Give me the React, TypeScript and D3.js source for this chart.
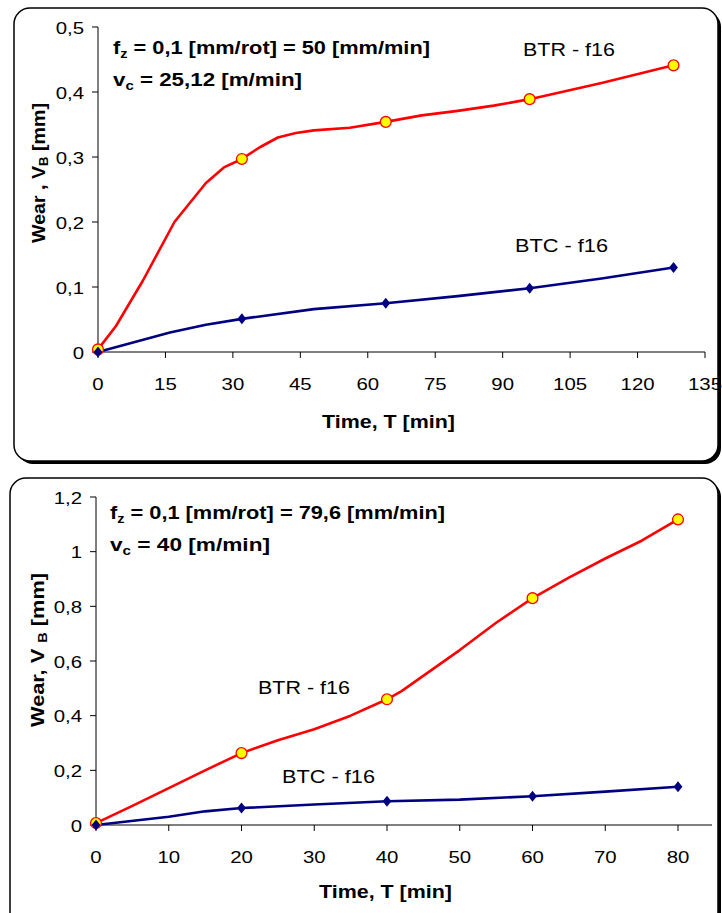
import React from "react";
import * as d3 from "d3";

// ---------- Data: top chart (vc = 25,12 m/min) ----------
const topMarkerT = [0, 32, 64, 96, 128];
const topBTRMarkers = [0.004, 0.297, 0.354, 0.389, 0.441];
const topBTCMarkers = [0, 0.051, 0.075, 0.098, 0.13];
const topBTRCurveT = [0, 4, 10, 17, 24, 28, 32, 36, 40, 44, 48, 56, 64, 72, 80, 88, 96, 112, 128];
const topBTRCurveV = [0.004, 0.04, 0.11, 0.2, 0.26, 0.284, 0.297, 0.315, 0.33, 0.337, 0.341, 0.345, 0.354, 0.364, 0.371, 0.379, 0.389, 0.414, 0.441];
const topBTCCurveT = [0, 8, 16, 24, 32, 48, 64, 80, 96, 112, 128];
const topBTCCurveV = [0, 0.015, 0.03, 0.042, 0.051, 0.066, 0.075, 0.086, 0.098, 0.113, 0.13];
const topXTicks = [0, 15, 30, 45, 60, 75, 90, 105, 120, 135];
const topYTicks = [0, 0.1, 0.2, 0.3, 0.4, 0.5];

// ---------- Data: bottom chart (vc = 40 m/min) ----------
const botMarkerT = [0, 20, 40, 60, 80];
const botBTRMarkers = [0.007, 0.263, 0.46, 0.83, 1.118];
const botBTCMarkers = [0, 0.062, 0.087, 0.105, 0.14];
const botBTRCurveT = [0, 5, 10, 15, 20, 25, 30, 35, 40, 42, 50, 55, 60, 65, 70, 75, 80];
const botBTRCurveV = [0.007, 0.07, 0.135, 0.2, 0.263, 0.31, 0.35, 0.4, 0.46, 0.49, 0.64, 0.74, 0.83, 0.905, 0.975, 1.04, 1.118];
const botBTCCurveT = [0, 10, 15, 20, 30, 40, 50, 60, 70, 80];
const botBTCCurveV = [0, 0.03, 0.05, 0.062, 0.075, 0.087, 0.093, 0.105, 0.122, 0.14];
const botXTicks = [0, 10, 20, 30, 40, 50, 60, 70, 80];
const botYTicks = [0, 0.2, 0.4, 0.6, 0.8, 1.0, 1.2];

const FONT = "'Liberation Sans', Arial, sans-serif";
const fmt = (v: number) => (Math.round(v * 10) / 10).toString().replace(".", ",");
const SX = 1.2;

type ChartProps = {
  frame: { x: number; y: number; w: number; h: number };
  x0: number; x1: number; xMax: number; axisEnd: number;
  y0: number; y1: number; yMax: number;
  xTicks: number[]; yTicks: number[];
  markerT: number[]; btrM: number[]; btcM: number[];
  btrT: number[]; btrV: number[]; btcT: number[]; btcV: number[];
  line1: string; line2: string; len1: number; len2: number;
  titleX: number; titleY1: number; titleY2: number;
  btrLabel: [number, number]; btcLabel: [number, number];
  yLabel: string; yLabelPos: [number, number]; yLabelLen: number; xLabelPos: [number, number];
};

function Chart(p: ChartProps) {
  const x = d3.scaleLinear().domain([0, p.xMax]).range([p.x0, p.x1]);
  const y = d3.scaleLinear().domain([0, p.yMax]).range([p.y0, p.y1]);
  const line = d3.line<[number, number]>().x((d) => x(d[0])).y((d) => y(d[1]));
  const btrPts = p.btrT.map((t, i) => [t, p.btrV[i]] as [number, number]);
  const btcPts = p.btcT.map((t, i) => [t, p.btcV[i]] as [number, number]);
  const f = p.frame;
  const d = 5.5;
  return (
    <g>
      <rect x={f.x + 3} y={f.y + 3} width={f.w} height={f.h} rx={16} fill="#000" />
      <rect x={f.x} y={f.y} width={f.w} height={f.h} rx={16} fill="#fff" stroke="#000" strokeWidth={1.5} />
      {/* axes */}
      <line x1={p.x0} x2={p.x0} y1={p.y0} y2={y(p.yMax)} stroke="#000" strokeWidth={1} />
      <line x1={p.x0} x2={p.axisEnd} y1={p.y0} y2={p.y0} stroke="#000" strokeWidth={1} />
      {p.yTicks.map((t) => (
        <g key={"y" + t}>
          <line x1={p.x0 - 6} x2={p.x0} y1={y(t)} y2={y(t)} stroke="#000" />
          <text transform={`translate(${p.x0 - 14},${y(t) + 6.5}) scale(${SX},1)`} textAnchor="end" fontFamily={FONT} fontSize={17}>{fmt(t)}</text>
        </g>
      ))}
      {p.xTicks.map((t) => (
        <g key={"x" + t}>
          <line x1={x(t)} x2={x(t)} y1={p.y0} y2={p.y0 + 6} stroke="#000" />
          <text transform={`translate(${x(t)},${p.y0 + 38}) scale(${SX},1)`} textAnchor="middle" fontFamily={FONT} fontSize={17}>{t}</text>
        </g>
      ))}
      {/* lines */}
      <path d={line(btrPts) || ""} fill="none" stroke="#ff0000" strokeWidth={2.6} strokeLinejoin="round" />
      <path d={line(btcPts) || ""} fill="none" stroke="#000080" strokeWidth={2.6} strokeLinejoin="round" />
      {p.markerT.map((t, i) => (
        <circle key={"r" + i} cx={x(t)} cy={y(p.btrM[i])} r={5.4} fill="#ffff00" stroke="#ff0000" strokeWidth={1.3} />
      ))}
      {p.markerT.map((t, i) => {
        const cx = x(t), cy = y(p.btcM[i]);
        return <path key={"b" + i} d={`M${cx},${cy - d}L${cx + d * 0.8},${cy}L${cx},${cy + d}L${cx - d * 0.8},${cy}Z`} fill="#000080" />;
      })}
      {/* texts */}
      <text x={p.titleX} y={p.titleY1} fontFamily={FONT} fontSize={18} fontWeight="bold" textLength={p.len1} lengthAdjust="spacingAndGlyphs">
        f<tspan fontSize={12} dy={4}>z</tspan><tspan dy={-4}>{" = 0,1 [mm/rot] = " + p.line1}</tspan>
      </text>
      <text x={p.titleX} y={p.titleY2} fontFamily={FONT} fontSize={18} fontWeight="bold" textLength={p.len2} lengthAdjust="spacingAndGlyphs">
        v<tspan fontSize={12} dy={4}>c</tspan><tspan dy={-4}>{" = " + p.line2}</tspan>
      </text>
      <text x={p.btrLabel[0]} y={p.btrLabel[1]} fontFamily={FONT} fontSize={19} textLength={92} lengthAdjust="spacingAndGlyphs">BTR - f16</text>
      <text x={p.btcLabel[0]} y={p.btcLabel[1]} fontFamily={FONT} fontSize={19} textLength={93} lengthAdjust="spacingAndGlyphs">BTC - f16</text>
      <text transform={`translate(${p.yLabelPos[0]},${p.yLabelPos[1]}) rotate(-90)`} x={-p.yLabelLen / 2} fontFamily={FONT} fontSize={18} fontWeight="bold" textLength={p.yLabelLen} lengthAdjust="spacingAndGlyphs">
        {p.yLabel}<tspan fontSize={12} dy={3}>B</tspan><tspan dy={-3}> [mm]</tspan>
      </text>
      <text x={p.xLabelPos[0] - 66} y={p.xLabelPos[1]} fontFamily={FONT} fontSize={18} fontWeight="bold" textLength={133} lengthAdjust="spacingAndGlyphs">Time, T [min]</text>
    </g>
  );
}

export default function App() {
  return (
    <svg width={722} height={913} style={{ position: "absolute", left: 0, top: 0, background: "#fff" }}>
      <Chart
        frame={{ x: 14, y: 8, w: 704, h: 453 }}
        x0={98} x1={705} xMax={135} axisEnd={705}
        y0={352} y1={27} yMax={0.5}
        xTicks={topXTicks} yTicks={topYTicks}
        markerT={topMarkerT} btrM={topBTRMarkers} btcM={topBTCMarkers}
        btrT={topBTRCurveT} btrV={topBTRCurveV} btcT={topBTCCurveT} btcV={topBTCCurveV}
        line1="50 [mm/min]" line2="25,12 [m/min]" len1={317} len2={189}
        titleX={113} titleY1={54} titleY2={86}
        btrLabel={[523, 56]} btcLabel={[515, 252]}
        yLabel="Wear , V" yLabelPos={[45, 173]} yLabelLen={140} xLabelPos={[388, 428]}
      />
      <Chart
        frame={{ x: 10, y: 478, w: 708, h: 450 }}
        x0={96} x1={678} xMax={80} axisEnd={712}
        y0={825} y1={497} yMax={1.2}
        xTicks={botXTicks} yTicks={botYTicks}
        markerT={botMarkerT} btrM={botBTRMarkers} btcM={botBTCMarkers}
        btrT={botBTRCurveT} btrV={botBTRCurveV} btcT={botBTCCurveT} btcV={botBTCCurveV}
        line1="79,6 [mm/min]" line2="40 [m/min]" len1={335} len2={160}
        titleX={110} titleY1={519} titleY2={551}
        btrLabel={[258, 694]} btcLabel={[282, 783]}
        yLabel="Wear, V " yLabelPos={[44, 650]} yLabelLen={154} xLabelPos={[385, 898]}
      />
    </svg>
  );
}
